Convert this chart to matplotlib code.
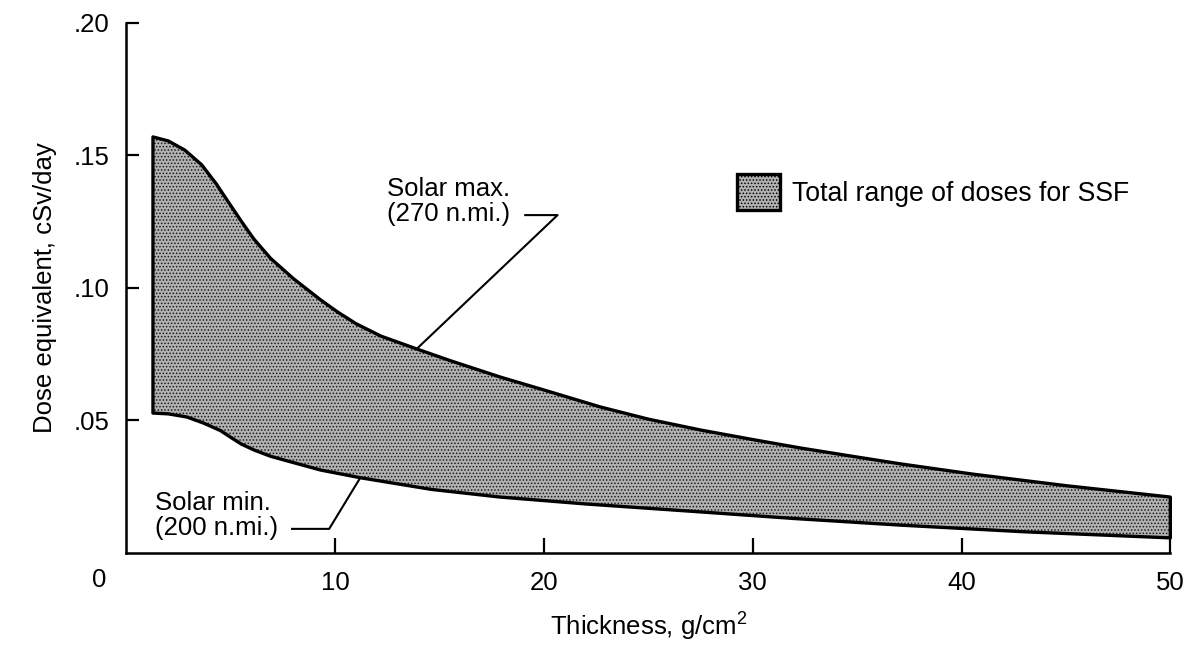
import numpy as np
from matplotlib import pyplot as plt
from matplotlib.patches import Patch

plt.rcParams['font.family'] = ['Liberation Sans', 'DejaVu Sans']
plt.rcParams['hatch.linewidth'] = 0.7

# solar max (270 n.mi.) - upper edge of range
x_max = [1.27, 2.0, 2.8, 3.6, 4.3, 4.9, 5.5, 6.1, 6.9, 8.0, 9.3, 10.1, 11.0,
         12.2, 13.9, 15.5, 17.9, 20.0, 22.7, 25.0, 27.5, 30.0, 32.3, 35.0,
         37.1, 40.5, 45.0, 50.0]
d_max = [0.157, 0.1555, 0.152, 0.1465, 0.1393, 0.1322, 0.1252, 0.1185, 0.1112,
         0.1035, 0.0955, 0.091, 0.0865, 0.0818, 0.0770, 0.0726, 0.0664, 0.0615,
         0.0551, 0.0505, 0.0464, 0.0428, 0.0396, 0.0362, 0.0336, 0.0298,
         0.0254, 0.0211]

# solar min (200 n.mi.) - lower edge of range
x_min = [1.27, 2.0, 2.9, 3.7, 4.5, 5.0, 5.5, 6.1, 6.9, 8.0, 9.3, 11.2, 14.6,
         17.9, 22.0, 27.5, 32.0, 37.1, 43.0, 50.0]
d_min = [0.0528, 0.0525, 0.0513, 0.049, 0.0462, 0.0436, 0.0411, 0.0389,
         0.0365, 0.0341, 0.0313, 0.0284, 0.0240, 0.0211, 0.0185, 0.0155,
         0.0130, 0.0105, 0.0080, 0.0057]

xticks = [10, 20, 30, 40, 50]
yticks = [0.05, 0.10, 0.15, 0.20]
ytick_labels = ['.05', '.10', '.15', '.20']

fig = plt.figure(figsize=(11.93, 6.47), dpi=100)
ax = fig.add_axes([0.106, 0.1453, 0.875, 0.8192])

# shaded band between the two curves
px = np.concatenate([x_max, x_min[::-1]])
py = np.concatenate([d_max, d_min[::-1]])
ax.fill(px, py, facecolor='#b2b2b2', hatch='.....', edgecolor='#1a1a1a',
        linewidth=0, clip_on=False)
ax.fill(px, py, fill=False, edgecolor='black', linewidth=2.4,
        joinstyle='round', clip_on=False)

# leader lines
ax.plot([19.1, 20.65, x_max[14]], [0.1275, 0.1275, d_max[14]],
        color='black', lw=1.5)
ax.text(12.5, 0.1325, 'Solar max.\n(270 n.mi.)', fontsize=18.5,
        ha='left', va='center', linespacing=1.05)
ax.plot([7.93, 9.71, x_min[11]], [0.0091, 0.0091, d_min[11]],
        color='black', lw=1.5)
ax.text(1.37, 0.0142, 'Solar min.\n(200 n.mi.)', fontsize=18.5,
        ha='left', va='center', linespacing=1.05)

handle = Patch(facecolor='#b2b2b2', hatch='.....', edgecolor='black',
               linewidth=2.4)
ax.legend([handle], ['Total range of doses for SSF'], loc='center left',
          bbox_to_anchor=(0.585, 0.681), frameon=False, fontsize=19.2,
          handlelength=1.6, handleheight=1.65, handletextpad=0.45,
          borderpad=0, borderaxespad=0)

ax.set_xlim(0, 50)
ax.set_ylim(0, 0.20)
ax.set_xticks(xticks)
ax.set_yticks(yticks)
ax.set_yticklabels(ytick_labels)
for side in ['top', 'right']:
    ax.spines[side].set_visible(False)
for side in ['left', 'bottom']:
    ax.spines[side].set_linewidth(1.8)
ax.tick_params(axis='both', direction='in', width=1.6, labelsize=18.5)
ax.tick_params(axis='x', length=11, pad=13)
ax.tick_params(axis='y', length=9.5, pad=12)
ax.text(-0.026, -0.051, '0', transform=ax.transAxes, fontsize=18.5,
        ha='center', va='center')

ax.set_xlabel('Thickness, g/cm$^{\\mathregular{2}}$', fontsize=18.5, labelpad=10)
ax.set_ylabel('Dose equivalent, cSv/day', fontsize=18.5, labelpad=12)

fig.savefig('out.png', dpi=100)
